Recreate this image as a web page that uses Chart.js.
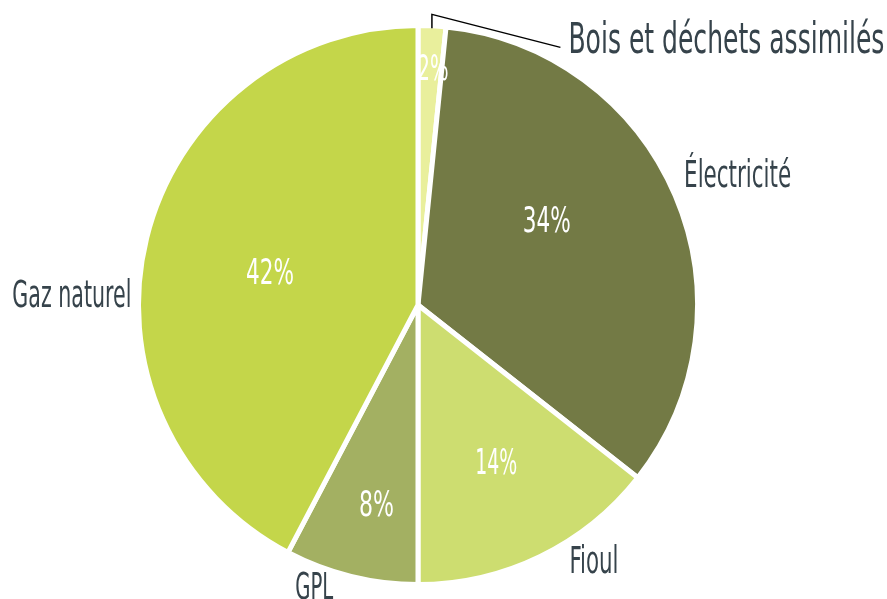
<!DOCTYPE html>
<html>
<head>
<meta charset="utf-8">
<script src="https://cdn.jsdelivr.net/npm/chart.js@4.4.1/dist/chart.umd.min.js"></script>
<style>
  html, body { margin: 0; padding: 0; background: #fff; }
  #wrap { width: 887px; height: 599px; }
</style>
</head>
<body>
<div id="wrap"><canvas id="chartEnergie" width="887" height="599"></canvas></div>
<script>
// Répartition de la consommation par énergie
const labels = ['Bois et déchets assimilés', 'Électricité', 'Fioul', 'GPL', 'Gaz naturel'];
const values = [1.6, 34.0, 14.4, 7.7, 42.3];
const colors = ['#e9ef9c', '#737a45', '#cddd70', '#a3b062', '#c4d64a'];

const FONT = '"Liberation Sans Narrow", "DejaVu Sans Condensed", "Roboto", sans-serif';

// Étiquettes : pourcentages blancs dans les parts, noms à l'extérieur
const sliceLabels = {
    id: 'sliceLabels',
    afterDatasetsDraw(chart, args, opts) {
        const ctx = chart.ctx;
        const total = values.reduce((a, b) => a + b, 0);
        chart.getDatasetMeta(0).data.forEach(function (arc, i) {
            const p = arc.getProps(['x', 'y', 'startAngle', 'endAngle', 'outerRadius'], true);
            const mid = (p.startAngle + p.endAngle) / 2;
            const cos = Math.cos(mid), sin = Math.sin(mid);
            const R = 277; // rayon visible

            // pourcentage
            const pr = R * opts.pctRadius[i];
            const ps = opts.pctShift[i];
            ctx.save();
            ctx.fillStyle = '#ffffff';
            ctx.font = '35px ' + FONT;
            ctx.textAlign = 'center';
            ctx.textBaseline = 'alphabetic';
            ctx.fillText(Math.round(values[i] / total * 100) + '%',
                p.x + cos * pr + ps[0], p.y + sin * pr + ps[1] + 12.5, opts.pctWidth[i]);

            // nom de la catégorie
            const lr = R + 10;
            const ls = opts.labelShift[i];
            const tx = p.x + cos * lr + ls[0], ty = p.y + sin * lr + ls[1];
            ctx.fillStyle = '#36434b';
            ctx.font = (i === opts.leaderIndex ? 42 : 37) + 'px ' + FONT;
            ctx.textAlign = cos >= 0 ? 'left' : 'right';
            ctx.fillText(labels[i], tx, ty, opts.labelWidth[i]);

            if (i === opts.leaderIndex) {
                const ex = p.x + cos * R, ey = p.y + sin * R;
                ctx.strokeStyle = '#000';
                ctx.lineWidth = 1.5;
                ctx.beginPath();
                ctx.moveTo(ex, ey);
                ctx.lineTo(ex, ey - 14);
                ctx.lineTo(tx - 8, ty - 6);
                ctx.stroke();
            }
            ctx.restore();
        });
    },
};

new Chart(document.getElementById('chartEnergie'), {
    type: 'pie',
    data: {
        labels: labels,
        datasets: [{
            data: values,
            backgroundColor: colors,
            borderColor: '#ffffff',
            borderWidth: 5,
            hoverOffset: 0,
        }],
    },
    options: {
        responsive: false,
        animation: false,
        layout: { padding: { left: 136, right: 187, top: 23, bottom: 12 } },
        plugins: {
            legend: { display: false },
            tooltip: { enabled: false },
            sliceLabels: {
                leaderIndex: 0,
                pctRadius: [0.86, 0.56, 0.63, 0.73, 0.55],
                pctShift: [[3, 0], [-14, -25], [2, 0], [7, 2], [0, 3]],
                pctWidth: [31, 48, 42, 35, 48],
                labelShift: [[136, 35], [2, -6], [26, 10], [-16, 15], [-8, 71]],
                labelWidth: [316, 107, 49, 38, 119],
            },
        },
    },
    plugins: [sliceLabels],
});
</script>
</body>
</html>
